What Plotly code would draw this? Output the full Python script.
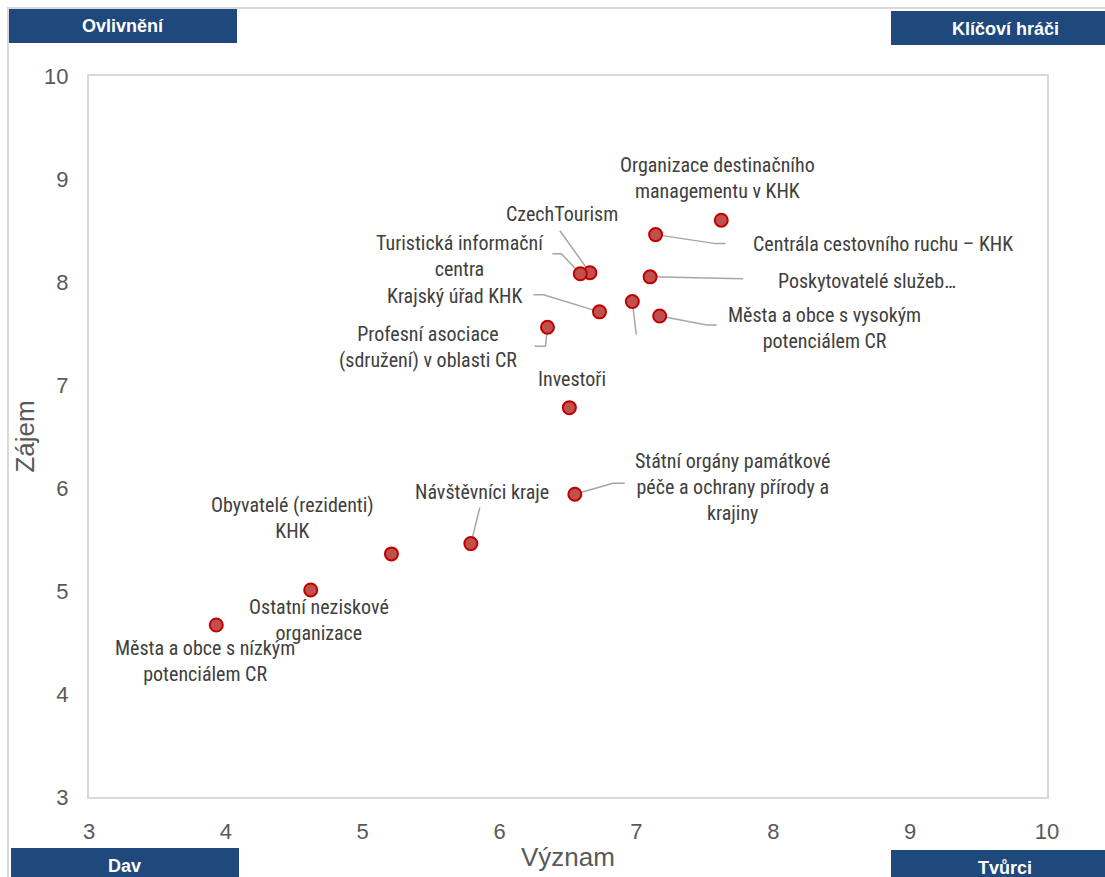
import plotly.graph_objects as go

# Stakeholder map: importance (Význam) vs. interest (Zájem)
names = [
    "Organizace destinačního<br>managementu v KHK",
    "Centrála cestovního ruchu – KHK",
    "CzechTourism",
    "Turistická informační<br>centra",
    "Poskytovatelé služeb…",
    "Krajský úřad KHK",
    "",
    "Města a obce s vysokým<br>potenciálem CR",
    "Profesní asociace<br>(sdružení) v oblasti CR",
    "Investoři",
    "Státní orgány památkové<br>péče a ochrany přírody a<br>krajiny",
    "Návštěvníci kraje",
    "Obyvatelé (rezidenti)<br>KHK",
    "Ostatní neziskové<br>organizace",
    "Města a obce s nízkým<br>potenciálem CR",
]
vyznam = [7.62, 7.14, 6.66, 6.59, 7.10, 6.73, 6.97, 7.17, 6.35, 6.51, 6.55, 5.79, 5.21, 4.62, 3.93]
zajem = [8.60, 8.46, 8.09, 8.08, 8.05, 7.71, 7.81, 7.67, 7.56, 6.78, 5.94, 5.46, 5.36, 5.01, 4.67]

# Label placement: pixel offset of the text from its point (right/down positive) and anchor
label_offsets = [
    (-4, -42, "center"), (95, 9, "left"), (-28, -59, "center"), (-120, -18, "center"),
    (126, 4, "left"), (-144, -16, "center"), (0, 0, "center"), (165, 12, "center"),
    (-119, 20, "center"), (3, -29, "center"), (158, -7, "center"), (11, -52, "center"),
    (-99, -36, "center"), (8, 30, "center"), (-11, 36, "center"),
]
# Leader lines in pixel offsets from each point (right/down positive)
leaders = [
    None, [(0, 0), (60, 9), (70, 9)], [(0, 0), (-30, -42)], [(0, 0), (-19, -20), (-28, -20)],
    [(0, 0), (93, 2)], [(0, 0), (-56, -17), (-66, -17)], [(0, 0), (4, 33)],
    [(0, 0), (47, 9), (57, 9)], [(0, 0), (-2, 19), (-13, 19)], None,
    [(0, 0), (38, -11), (50, -11)], [(0, 0), (9, -36)], None, None, None,
]

W, H = 1105, 877
L, R, T, B = 89, 1047, 76, 797

def px(x):
    return (x - L) / (R - L)

def py(y):
    return (B - y) / (B - T)

label_font = dict(family="Liberation Sans Narrow, Arial Narrow, Roboto Condensed, Liberation Sans",
                  size=20, color="#404040")
navy = "#1F497D"

fig = go.Figure()

shapes = []
for i, path in enumerate(leaders):
    if not path:
        continue
    d = "M " + " L ".join(f"{dx},{-dy}" for dx, dy in path)
    shapes.append(dict(type="path", path=d, xref="x", yref="y",
                       xsizemode="pixel", ysizemode="pixel",
                       xanchor=vyznam[i], yanchor=zajem[i],
                       line=dict(color="#A6A6A6", width=1.5), layer="below"))

fig.add_trace(go.Scatter(
    x=vyznam, y=zajem, mode="markers",
    marker=dict(size=13, color="#C0504D", line=dict(color="#C00000", width=2)),
    hovertext=names, hoverinfo="text", showlegend=False,
))

annotations = []
for i, name in enumerate(names):
    if not name:
        continue
    dx, dy, anchor = label_offsets[i]
    annotations.append(dict(x=vyznam[i], y=zajem[i], xref="x", yref="y", text=name,
                            showarrow=False, xshift=dx, yshift=-dy, xanchor=anchor,
                            yanchor="middle", align="center", font=label_font))

# Outer frame of the graphic
shapes.append(dict(type="rect", xref="paper", yref="paper", x0=px(8), x1=px(1110),
                   y0=py(890), y1=py(8), line=dict(color="#D9D9D9", width=2), layer="below"))

# Quadrant captions in the corners
corners = [
    ("Ovlivnění", 9, 237, 9, 43, 123, 26),
    ("Klíčoví hráči", 891, 1120, 11, 45, 1005, 29),
    ("Dav", 11, 239, 848, 890, 124, 866),
    ("Tvůrci", 891, 1120, 850, 890, 1005, 868),
]
for text, x0, x1, y0, y1, tx, ty in corners:
    shapes.append(dict(type="rect", xref="paper", yref="paper", x0=px(x0), x1=px(x1),
                       y0=py(y1), y1=py(y0), fillcolor=navy, line=dict(width=0), layer="above"))
    annotations.append(dict(x=px(tx), y=py(ty), xref="paper", yref="paper", text=f"<b>{text}</b>",
                            showarrow=False, xanchor="center", yanchor="middle",
                            font=dict(family="Liberation Sans, Arial", size=18, color="white")))

axis_common = dict(range=[3, 10], dtick=1, showgrid=False, zeroline=False,
                   showline=True, mirror=True, linecolor="#D9D9D9", linewidth=2,
                   ticks="", ticklabelstandoff=14,
                   tickfont=dict(family="Liberation Sans, Arial", size=22, color="#595959"))

fig.update_layout(
    width=W, height=H,
    margin=dict(l=L, r=W - R, t=T, b=H - B, autoexpand=False),
    paper_bgcolor="white", plot_bgcolor="white",
    xaxis=dict(**axis_common, title=dict(text="Význam", standoff=4,
               font=dict(family="Liberation Sans, Arial", size=26, color="#595959"))),
    yaxis=dict(**axis_common, title=dict(text="Zájem", standoff=2,
               font=dict(family="Liberation Sans, Arial", size=26, color="#595959"))),
    shapes=shapes, annotations=annotations,
)

fig.write_html("out.html")
